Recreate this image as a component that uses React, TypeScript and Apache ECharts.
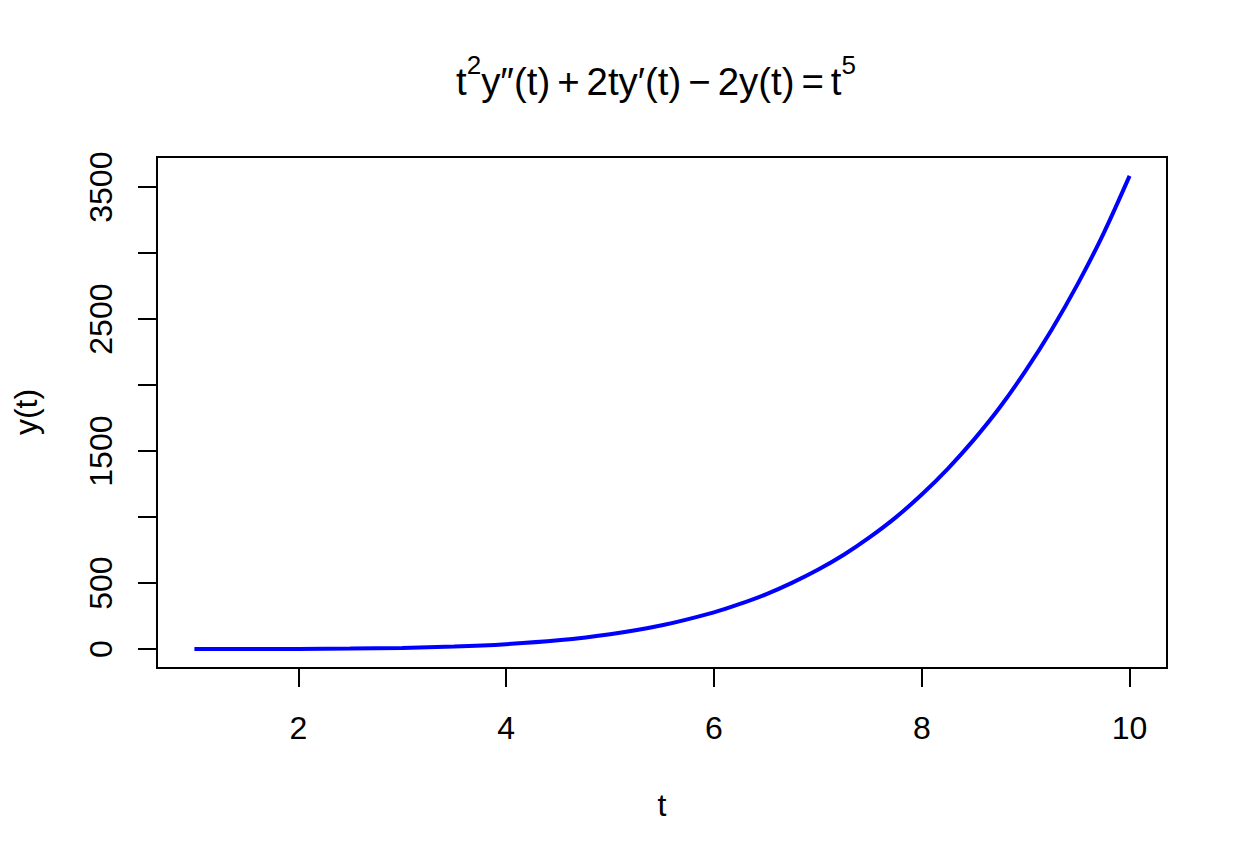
import React, { useEffect, useRef } from "react";
import * as echarts from "echarts";

const tValues = [1, 1.5, 2, 2.5, 3, 3.5, 4, 4.5, 5, 5.5, 6, 6.25, 6.5, 6.75, 7, 7.25, 7.5, 7.75, 8, 8.25, 8.5, 8.75, 9, 9.25, 9.5, 9.75, 10];
const yValues = [0, 0.3, 1.2, 3.5, 8.7, 19, 37, 66, 112, 180, 278, 342, 415, 502, 601, 715, 848, 998, 1171, 1366, 1585, 1830, 2110, 2420, 2765, 3150, 3585];
const xTicks = [2, 4, 6, 8, 10];
const yTicks = [0, 500, 1000, 1500, 2000, 2500, 3000, 3500];
const yTickLabels = [0, 500, 1500, 2500, 3500];

const FONT = "'Liberation Sans', Arial, Helvetica, sans-serif";

export default function App() {
  const ref = useRef<HTMLDivElement>(null);
  useEffect(() => {
    document.body.style.margin = "0";
    if (!ref.current) return;
    const chart = echarts.init(ref.current, null, { renderer: "svg" });
    const xMin = 1 - 0.04 * 9;
    const xMax = 10 + 0.04 * 9;
    const yLo = Math.min(...yValues);
    const yHi = Math.max(...yValues);
    const yr = yHi - yLo;
    const m = { fontSize: 38.4, fontFamily: FONT, fill: "#000", lineHeight: 50, verticalAlign: "bottom" };
    const op = { ...m, padding: [0, 7, 0, 7] };
    const s = { fontSize: 26, fontFamily: FONT, fill: "#000", lineHeight: 50, verticalAlign: "top", padding: [2, 0, 0, 0] };
    chart.setOption({
      animation: false,
      backgroundColor: "#ffffff",
      textStyle: { fontFamily: FONT },
      grid: {
        left: 157,
        right: 81,
        top: 157,
        bottom: 196,
        show: true,
        borderColor: "#000",
        borderWidth: 2,
        backgroundColor: "transparent",
      },
      xAxis: {
        type: "value",
        min: xMin,
        max: xMax,
        axisLine: { show: false, onZero: false },
        splitLine: { show: false },
        axisTick: { show: true, inside: false, customValues: xTicks, length: 19, lineStyle: { color: "#000", width: 2 } },
        axisLabel: {
          customValues: xTicks,
          margin: 44,
          fontSize: 32,
          color: "#000",
          fontFamily: FONT,
          formatter: (v: number) => String(v),
        },
      },
      yAxis: {
        type: "value",
        min: yLo - 0.04 * yr,
        max: yHi + 0.04 * yr,
        axisLine: { show: false, onZero: false },
        splitLine: { show: false },
        axisTick: { show: true, inside: false, customValues: yTicks, length: 19, lineStyle: { color: "#000", width: 2 } },
        axisLabel: {
          customValues: yTickLabels,
          rotate: 90,
          margin: 40,
          fontSize: 32,
          color: "#000",
          fontFamily: FONT,
          formatter: (v: number) => String(v),
        },
      },
      graphic: [
        {
          type: "text",
          x: 656,
          y: 50,
          style: {
            text: "{m|t}{s|2}{m|y″(t)}{o|+}{m|2ty′(t)}{o|−}{m|2y(t)}{o|=}{m|t}{s|5}",
            align: "center",
            rich: { m, o: op, s },
          },
        },
        {
          type: "text",
          x: 662,
          y: 805,
          style: { text: "t", fontSize: 32, fontFamily: FONT, fill: "#000", align: "center", verticalAlign: "middle" },
        },
        {
          type: "text",
          x: 26,
          y: 412,
          rotation: Math.PI / 2,
          style: { text: "y(t)", fontSize: 32, fontFamily: FONT, fill: "#000", align: "center", verticalAlign: "middle" },
        },
      ],
      series: [
        {
          type: "line",
          data: tValues.map((t, i) => [t, yValues[i]]),
          showSymbol: false,
          smooth: 0.3,
          lineStyle: { color: "#0000ff", width: 4 },
        },
      ],
    });
    return () => chart.dispose();
  }, []);
  return <div ref={ref} style={{ width: 1248, height: 864 }} />;
}
